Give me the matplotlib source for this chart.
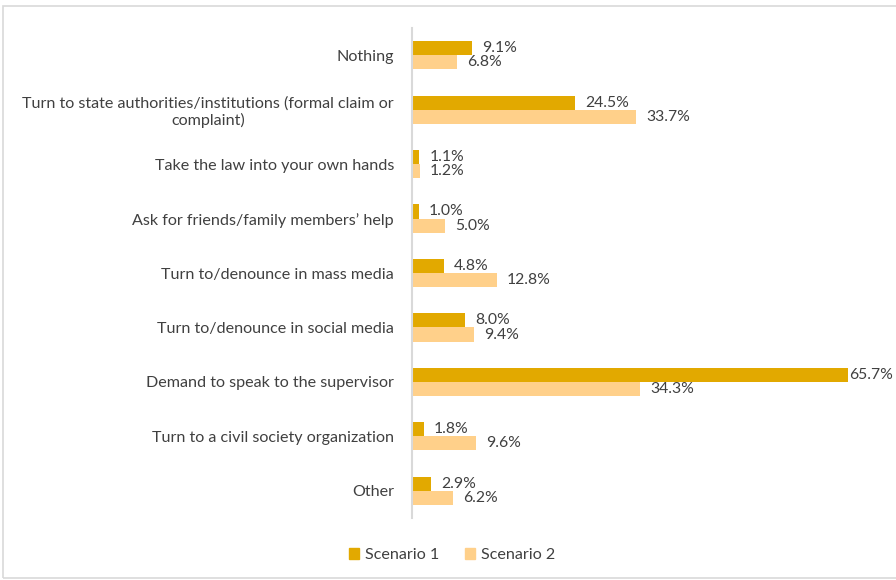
import matplotlib
matplotlib.use("Agg")
import matplotlib.pyplot as plt
from matplotlib.patches import Rectangle, Patch
import numpy as np

categories = [
    "Nothing",
    "Turn to state authorities/institutions (formal claim or\ncomplaint)",
    "Take the law into your own hands",
    "Ask for friends/family members\u2019 help",
    "Turn to/denounce in mass media",
    "Turn to/denounce in social media",
    "Demand to speak to the supervisor",
    "Turn to a civil society organization",
    "Other",
]
scenario1 = [9.1, 24.5, 1.1, 1.0, 4.8, 8.0, 65.7, 1.8, 2.9]
scenario2 = [6.8, 33.7, 1.2, 5.0, 12.8, 9.4, 34.3, 9.6, 6.2]
series_names = ["Scenario 1", "Scenario 2"]
colors = ["#E2A900", "#FFD08A"]
text_color = "#404040"

plt.rcParams["font.family"] = ["Lato", "DejaVu Sans"]

fig = plt.figure(figsize=(8.96, 5.80), dpi=100)
fig.patches.append(Rectangle((2.5 / 896, 2 / 580), 1.2, 1 - 8 / 580, transform=fig.transFigure,
                             fill=False, edgecolor="#D9D9D9", linewidth=1.2))
ax = fig.add_axes([412 / 896, 1 - 518 / 580, 465 / 896, 490 / 580])

n = len(categories)
y = np.arange(n)
h = 0.26
b1 = ax.barh(y - h / 2, scenario1, height=h, color=colors[0], label=series_names[0])
b2 = ax.barh(y + h / 2, scenario2, height=h, color=colors[1], label=series_names[1])

for bars, vals in ((b1, scenario1), (b2, scenario2)):
    for rect, v in zip(bars, vals):
        ax.annotate(f"{v:.1f}%", (rect.get_width(), rect.get_y() + rect.get_height() / 2),
                    xytext=(1 if v > 60 else 10, 0), textcoords="offset pixels",
                    ha="left", va="center", fontsize=11.3, color=text_color)

ax.set_xlim(0, 70)
ax.set_ylim(n - 0.5, -0.5)
ax.set_yticks(y)
ax.set_yticklabels(categories, fontsize=11.6, color=text_color, multialignment="center")
ax.tick_params(axis="y", length=0, pad=13)
ax.set_xticks([])
for s in ("top", "right", "bottom"):
    ax.spines[s].set_visible(False)
ax.spines["left"].set_color("#D9D9D9")
ax.spines["left"].set_linewidth(1.5)

leg = fig.legend(handles=[Patch(color=colors[0]), Patch(color=colors[1])], labels=series_names,
                 loc="center", bbox_to_anchor=(452 / 896, 1 - 555 / 580), ncol=2, frameon=False,
                 fontsize=11.6, handlelength=0.65, handleheight=0.65, handletextpad=0.35, columnspacing=1.6)
for t in leg.get_texts():
    t.set_color(text_color)

fig.savefig("out.png", dpi=100)
